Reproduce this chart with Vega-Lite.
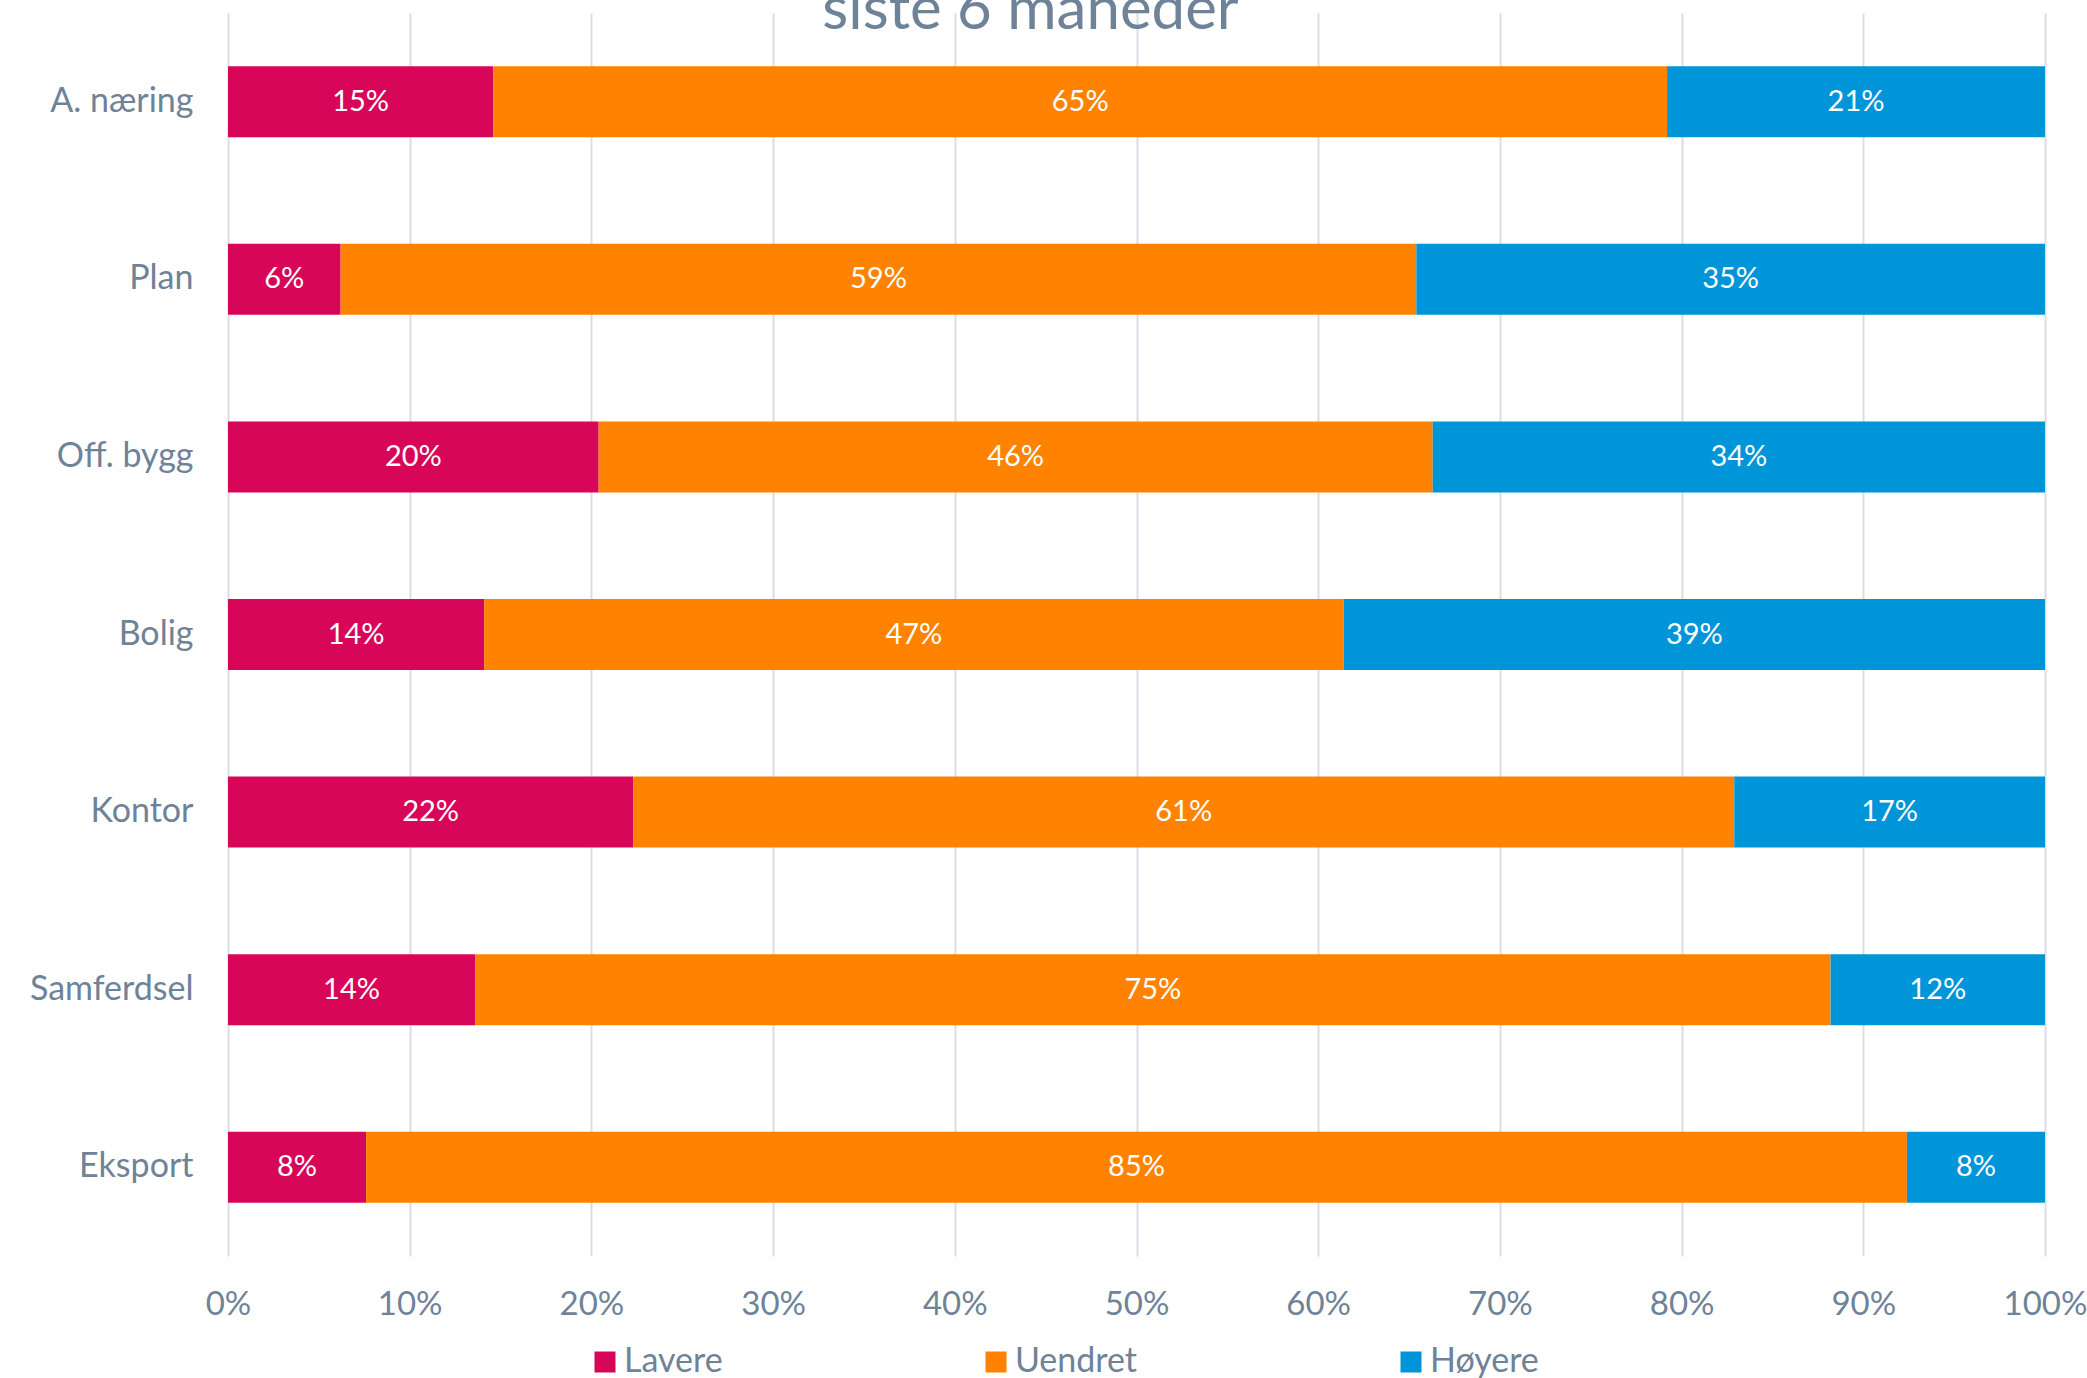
{
  "$schema": "https://vega.github.io/schema/vega-lite/v6.json",
  "width": 1817,
  "height": 1243,
  "autosize": {"type": "none"},
  "padding": {"left": 228, "top": 13, "right": 42, "bottom": 122},
  "background": "white",
  "config": {"view": {"stroke": null}},
  "title": {
    "text": "siste 6 måneder",
    "font": "Lato",
    "fontSize": 60,
    "fontWeight": "normal",
    "color": "#6E8298",
    "anchor": "middle",
    "frame": "group",
    "baseline": "alphabetic",
    "offset": 0,
    "dy": 76,
    "dx": -106
  },
  "data": {
    "values": [
      {"kategori": "A. næring", "serie": "Lavere", "andel": 0.146},
      {"kategori": "A. næring", "serie": "Uendret", "andel": 0.646},
      {"kategori": "A. næring", "serie": "Høyere", "andel": 0.208},
      {"kategori": "Plan", "serie": "Lavere", "andel": 0.062},
      {"kategori": "Plan", "serie": "Uendret", "andel": 0.592},
      {"kategori": "Plan", "serie": "Høyere", "andel": 0.346},
      {"kategori": "Off. bygg", "serie": "Lavere", "andel": 0.204},
      {"kategori": "Off. bygg", "serie": "Uendret", "andel": 0.459},
      {"kategori": "Off. bygg", "serie": "Høyere", "andel": 0.337},
      {"kategori": "Bolig", "serie": "Lavere", "andel": 0.141},
      {"kategori": "Bolig", "serie": "Uendret", "andel": 0.473},
      {"kategori": "Bolig", "serie": "Høyere", "andel": 0.386},
      {"kategori": "Kontor", "serie": "Lavere", "andel": 0.223},
      {"kategori": "Kontor", "serie": "Uendret", "andel": 0.606},
      {"kategori": "Kontor", "serie": "Høyere", "andel": 0.171},
      {"kategori": "Samferdsel", "serie": "Lavere", "andel": 0.136},
      {"kategori": "Samferdsel", "serie": "Uendret", "andel": 0.746},
      {"kategori": "Samferdsel", "serie": "Høyere", "andel": 0.118},
      {"kategori": "Eksport", "serie": "Lavere", "andel": 0.076},
      {"kategori": "Eksport", "serie": "Uendret", "andel": 0.848},
      {"kategori": "Eksport", "serie": "Høyere", "andel": 0.076}
    ]
  },
  "transform": [
    {"calculate": "indexof(['Lavere','Uendret','Høyere'], datum.serie)", "as": "ord"},
    {"stack": "andel", "groupby": ["kategori"], "sort": [{"field": "ord", "order": "ascending"}], "as": ["x0", "x1"]},
    {"calculate": "(datum.x0 + datum.x1) / 2", "as": "xm"}
  ],
  "encoding": {
    "y": {
      "field": "kategori",
      "type": "nominal",
      "sort": ["A. næring", "Plan", "Off. bygg", "Bolig", "Kontor", "Samferdsel", "Eksport"],
      "scale": {"paddingInner": 0.6, "paddingOuter": 0.3},
      "axis": {
        "title": null,
        "domain": false,
        "ticks": false,
        "tickSize": 0,
        "grid": false,
        "labelFont": "Lato",
        "labelFontSize": 34,
        "labelColor": "#6E8298",
        "labelPadding": 35
      }
    }
  },
  "layer": [
    {
      "mark": {"type": "bar"},
      "encoding": {
        "x": {
          "field": "x0",
          "type": "quantitative",
          "scale": {"domain": [0, 1], "nice": false},
          "axis": {
            "title": null,
            "format": ".0%",
            "values": [0, 0.1, 0.2, 0.3, 0.4, 0.5, 0.6, 0.7, 0.8, 0.9, 1],
            "grid": true,
            "gridColor": "#D9DEE4",
            "gridWidth": 2,
            "domain": false,
            "ticks": false,
            "tickSize": 0,
            "labelFlush": false,
            "labelOverlap": false,
            "labelFont": "Lato",
            "labelFontSize": 33,
            "labelColor": "#6E8298",
            "labelPadding": 32
          }
        },
        "x2": {"field": "x1"},
        "color": {
          "field": "serie",
          "type": "nominal",
          "scale": {"domain": ["Lavere", "Uendret", "Høyere"], "range": ["#D70658", "#FF8300", "#0094D8"]},
          "legend": {
            "title": null,
            "orient": "none",
            "legendX": 360,
            "legendY": 1332,
            "direction": "horizontal",
            "columns": 3,
            "columnPadding": 256,
            "padding": 0,
            "symbolType": "square",
            "symbolSize": 441,
            "symbolStrokeWidth": 0,
            "labelFont": "Lato",
            "labelFontSize": 34,
            "labelColor": "#6E8298",
            "labelOffset": 2
          }
        }
      }
    },
    {
      "mark": {"type": "text", "color": "white", "font": "Lato", "fontSize": 29},
      "encoding": {
        "x": {"field": "xm", "type": "quantitative"},
        "text": {"field": "andel", "type": "quantitative", "format": ".0%"}
      }
    }
  ]
}
